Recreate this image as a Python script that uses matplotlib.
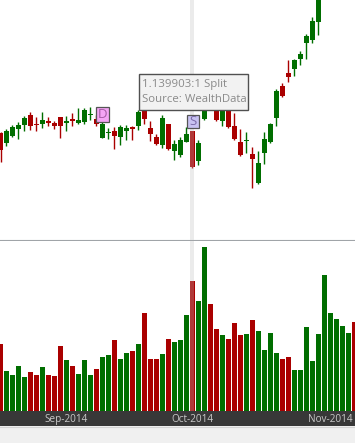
import matplotlib
matplotlib.use("Agg")
import matplotlib.pyplot as plt
from matplotlib.patches import Rectangle

W, H = 355, 443

# daily bars, 15-Aug-2014 .. 07-Nov-2014 (price units arbitrary)
opens = [107.3, 97.3, 104, 111, 115, 125, 116.3, 116, 119, 117.3,
         123, 117.5, 120.5, 117.3, 118.3, 125.2, 120.7, 102.5, 107, 109,
         103.3, 109.3, 113, 114.3, 134, 111.7, 103.3, 95, 116, 89.3,
         85.5, 98.5, 109, 79.3, 121.3, 146, 136, 119, 134, 114,
         98.3, 98.8, 86, 57.3, 87.3, 98.3, 122.3, 154.3, 167, 171.5,
         181, 197.3, 200.5, 218.3, 255, 272, 292, 308, 324, 340]
highs = [108, 110.7, 115.3, 117.7, 124.3, 128, 123, 128, 123, 119.3,
         123.5, 124, 127, 132, 132, 132.7, 125, 118.5, 112.5, 113.5,
         115.5, 115.5, 114, 130.5, 136, 119, 106.5, 125, 116.5, 100,
         103.3, 113, 109.5, 100, 140, 150, 139, 140, 137, 127,
         110.7, 107.7, 93.3, 89, 108.3, 117.3, 151.3, 157.3, 180, 181,
         189, 206, 223.3, 250, 282, 300, 318, 332, 346, 348]
lows = [78.3, 94.3, 102.7, 100.7, 109.3, 110, 109.3, 112.3, 113.7, 111.3,
        102.3, 109.3, 114.3, 116.3, 116.3, 120, 114.3, 102, 101, 91.5,
        95.5, 100, 100.5, 110, 116, 99, 95.5, 92.5, 90.5, 80,
        83, 98, 72, 75, 120.5, 133, 119, 114, 112.5, 100,
        84, 87.3, 52, 56, 75.7, 97, 114, 143, 158.3, 164,
        175.5, 181.3, 197.3, 205.5, 245, 265, 288, 302, 320, 328]
closes = [90, 109, 113.3, 115.3, 122, 114.3, 115.3, 120, 117.3, 114.3,
          114.3, 118.5, 119.5, 120, 130, 126, 116.3, 116, 108, 104.3,
          113, 112, 111.3, 128, 121.3, 106, 96, 122, 91, 96,
          100, 106, 73, 96.7, 137, 136, 120, 136, 113, 101.3,
          85, 99.3, 81, 77, 100.7, 116, 149.3, 144, 163.3, 180,
          186, 204, 219, 248, 275, 295, 310, 325, 340, 332]
# volume, thousands of shares
volumes = [670, 400, 360, 450, 340, 390, 360, 440, 360, 350,
           650, 510, 450, 370, 510, 360, 420, 540, 560, 710,
           520, 580, 600, 670, 980, 520, 520, 570, 720, 690,
           710, 960, 1300, 1100, 1640, 1070, 820, 760, 720, 880,
           760, 770, 910, 800, 610, 780, 580, 520, 540, 410,
           410, 840, 500, 770, 1360, 980, 920, 850, 780, 890]

month_labels = ["Sep-2014", "Oct-2014", "Nov-2014"]
month_bars = [11, 32, 55]
split_bar = 32
split_lines = ["1.139903:1 Split", "Source: WealthData"]
dividend_bar = 17

GREEN = "#006e00"
RED = "#aa0000"
FONT = "Open Sans"

n = len(opens)
xs = list(range(n))
colors = [GREEN if c >= o else RED for o, c in zip(opens, closes)]

fig = plt.figure(figsize=(W / 100, H / 100), dpi=100, facecolor="#f0f0f0")
ax = fig.add_axes([0, 1 - 240 / H, 1, 240 / H])
axv = fig.add_axes([0, 1 - 411 / H, 1, 170 / H])
axd = fig.add_axes([0, 1 - 426 / H, 1, 15 / H])

xlim = (-0.5 / 6, (W - 0.5) / 6)
for a in (ax, axv, axd):
    a.set_xlim(*xlim)
    a.set_xticks([])
    a.set_yticks([])
    for s in a.spines.values():
        s.set_visible(False)
ax.set_ylim(0, 240)
axv.set_ylim(0, 1700)
axd.set_ylim(0, 1)
axd.set_facecolor("#383838")

ax.spines["bottom"].set_visible(True)
ax.spines["bottom"].set_color("#a0a4a8")

bw = 5 / 6
# wicks
ax.vlines(xs, lows, highs, colors=colors, lw=1.0, zorder=2)
# bodies
bottoms = [min(o, c) for o, c in zip(opens, closes)]
heights = [max(abs(c - o), 1.2) for o, c in zip(opens, closes)]
ax.bar(xs, heights, bottom=bottoms, width=bw, color=colors, lw=0, zorder=3)

axv.bar(xs, volumes, width=bw, color=colors, lw=0, zorder=3)

# cursor band on split bar
for a in (ax, axv):
    a.axvspan(split_bar - 2 / 6, split_bar + 2 / 6, color="#c0c0c0", alpha=0.3, lw=0, zorder=5)


def px(a, dx, dy):
    inv = a.transData.inverted()
    x0, y0 = inv.transform((0, 0))
    x1, y1 = inv.transform((dx, dy))
    return x1 - x0, y1 - y0


# dividend / split markers
bwx, bhy = px(ax, 13, 14.5)
ax.add_patch(Rectangle((dividend_bar + px(ax, 0.2, 0)[0] - bwx / 2, highs[dividend_bar]),
                       bwx, bhy, fc="#f4a4f4", ec="#555555", lw=0.9, zorder=6))
ax.text(dividend_bar + px(ax, 0.2, 0)[0], highs[dividend_bar] + bhy / 2, "D",
        ha="center", va="center", fontsize=9.5, family=FONT, color="#a45aa4", zorder=7)

swx, shy = px(ax, 12, 13.3)
gap = px(ax, 0, 2.2)[1]
ax.add_patch(Rectangle((split_bar + px(ax, 0.8, 0)[0] - swx / 2, highs[split_bar] + gap),
                       swx, shy, fc="#c8c2f2", ec="#555555", lw=0.9, zorder=6))
ax.text(split_bar + px(ax, 0.8, 0)[0], highs[split_bar] + gap + shy / 2, "S",
        ha="center", va="center", fontsize=9.5, family=FONT, color="#7a6aa8", zorder=7)

# tooltip
ax.add_patch(Rectangle((139 / W, 1 - 109.5 / 240), 108.5 / W, 35 / 240, transform=ax.transAxes,
                       fc="#f2f2f2", ec="#505050", lw=1, zorder=10))
ax.text(142.5 / W, 1 - 84.5 / 240, split_lines[0], transform=ax.transAxes, ha="left", va="center",
        fontsize=8.2, family=FONT, color="#8a8a8a", zorder=11)
ax.text(142.5 / W, 1 - 100 / 240, split_lines[1], transform=ax.transAxes, ha="left", va="center",
        fontsize=8.2, family=FONT, color="#8a8a8a", zorder=11)

# date strip
for b, lab in zip(month_bars, month_labels):
    axd.text(b, 0.45, lab, ha="center", va="center", fontsize=7.2, family=FONT, color="#c8c8c8")

fig.add_artist(plt.Line2D([0, 1], [1 - 426.5 / H] * 2, transform=fig.transFigure, color="#d4d4d4", lw=0.8))

fig.savefig("out.png", dpi=100, facecolor=fig.get_facecolor())
